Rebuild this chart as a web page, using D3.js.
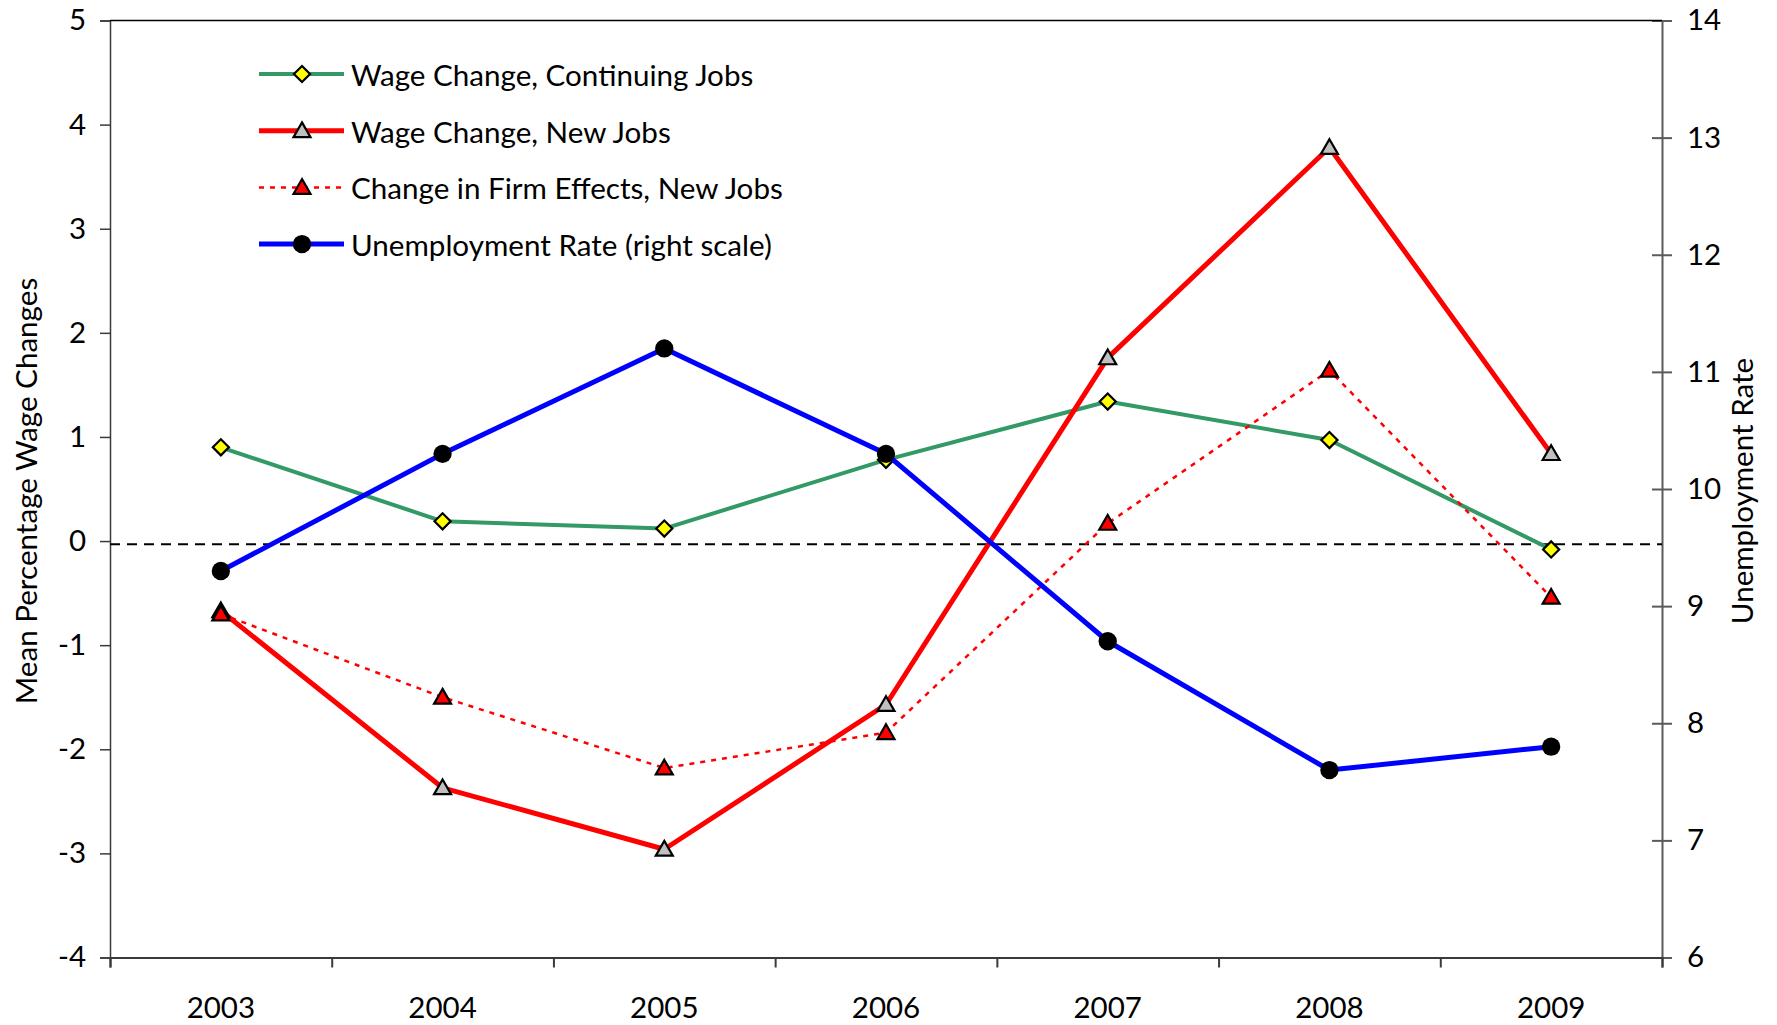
<!DOCTYPE html>
<html>
<head>
<meta charset="utf-8">
<script src="https://cdn.jsdelivr.net/npm/d3@7/dist/d3.min.js"></script>
<style>
  html, body { margin: 0; padding: 0; background: #fff; }
  svg { display: block; font-family: Lato, "Open Sans", sans-serif; }
</style>
</head>
<body>
<svg id="chart" width="1777" height="1025"></svg>
<script>
// Werte
var years = [2003, 2004, 2005, 2006, 2007, 2008, 2009];
var continuingJobs = [0.90, 0.19, 0.12, 0.78, 1.34, 0.97, -0.08];
var newJobs = [-0.67, -2.37, -2.96, -1.57, 1.76, 3.78, 0.84];
var firmEffects = [-0.70, -1.50, -2.18, -1.84, 0.17, 1.64, -0.54];
var unemployment = [9.3, 10.3, 11.2, 10.3, 8.7, 7.6, 7.8];

var leftTicks = [-4, -3, -2, -1, 0, 1, 2, 3, 4, 5];
var rightTicks = [6, 7, 8, 9, 10, 11, 12, 13, 14];
var refLine = -0.03;

var leftTitle = "Mean Percentage Wage Changes";
var rightTitle = "Unemployment Rate";

var legendLabels = [
  "Wage Change, Continuing Jobs",
  "Wage Change, New Jobs",
  "Change in Firm Effects, New Jobs",
  "Unemployment Rate (right scale)"
];

// Layout
var plot = { left: 110, right: 1662, top: 20.5, bottom: 957.5 };
var fontSize = 29.5;
var legendFont = 29.6;

var svg = d3.select("#chart");

var x = d3.scaleBand().domain(years).range([plot.left, plot.right]).padding(0);
var xEdge = d3.scaleLinear().domain([0, years.length]).range([plot.left, plot.right]);
var yL = d3.scaleLinear().domain([-4, 5]).range([plot.bottom, plot.top]);
var yR = d3.scaleLinear().domain([6, 14]).range([plot.bottom, plot.top]);

function cx(i) { return x(years[i]) + x.bandwidth() / 2; }
// Bindestrich statt Unicode-Minus, wie im Original
function plain(d) { return String(d); }

// Serien-Konfiguration (Stil getrennt von den Daten)
var series = [
  { values: continuingJobs, scale: yL, color: "#339966", width: 4, dash: null,
    symbol: "diamond", fill: "#ffff00" },
  { values: newJobs, scale: yL, color: "#ff0000", width: 5, dash: null,
    symbol: "triangle", fill: "#c0c0c0" },
  { values: firmEffects, scale: yL, color: "#ff0000", width: 2.5, dash: "5,6",
    symbol: "triangle", fill: "#ff0000" },
  { values: unemployment, scale: yR, color: "#0000ff", width: 5, dash: null,
    symbol: "circle", fill: "#000000" }
];

function markerPath(kind) {
  if (kind === "diamond") return d3.symbol().type(d3.symbolSquare).size(130)();
  if (kind === "triangle") return d3.symbol().type(d3.symbolTriangle).size(125)();
  return d3.symbol().type(d3.symbolCircle).size(Math.PI * 84)();
}

function drawMarker(g, kind, fill, px, py) {
  var m = g.append("path")
    .attr("d", markerPath(kind))
    .attr("fill", fill)
    .attr("stroke", "#000")
    .attr("stroke-width", kind === "circle" ? 0 : 2.2)
    .attr("stroke-linejoin", "miter");
  if (kind === "diamond") {
    m.attr("transform", "translate(" + px + "," + py + ") rotate(45)");
  } else if (kind === "triangle") {
    m.attr("transform", "translate(" + px + "," + (py + 1.5) + ")");
  } else {
    m.attr("transform", "translate(" + px + "," + py + ")");
  }
}

// Achsen
var axisL = svg.append("g")
  .attr("transform", "translate(" + plot.left + ",0)")
  .call(d3.axisLeft(yL).tickValues(leftTicks).tickSize(10).tickPadding(14).tickFormat(plain));

var axisR = svg.append("g")
  .attr("transform", "translate(" + plot.right + ",0)")
  .call(d3.axisRight(yR).tickValues(rightTicks).tickSize(10).tickPadding(15).tickFormat(plain));
axisR.selectAll(".tick line").attr("x1", -10).attr("x2", 10);

var axisB = svg.append("g")
  .attr("transform", "translate(0," + plot.bottom + ")")
  .call(d3.axisBottom(xEdge).tickValues(d3.range(years.length + 1)).tickSize(10).tickFormat(""));

var axisLabels = svg.append("g")
  .attr("transform", "translate(0," + plot.bottom + ")")
  .call(d3.axisBottom(x).tickSize(0).tickFormat(plain));
axisLabels.select(".domain").remove();
axisLabels.selectAll("text").attr("y", 60).attr("dy", null);

[axisL, axisR, axisB, axisLabels].forEach(function(a) {
  a.selectAll("text")
    .attr("font-family", "Lato, sans-serif")
    .attr("font-size", fontSize)
    .attr("fill", "#000");
});
axisL.selectAll("path, line").attr("stroke", "#3a3a3a").attr("stroke-width", 1.5);
axisB.selectAll("path, line").attr("stroke", "#3a3a3a").attr("stroke-width", 2);
axisR.selectAll("path, line").attr("stroke", "#5a5a5a").attr("stroke-width", 2);

// Rahmen oben
svg.append("line")
  .attr("x1", plot.left).attr("x2", plot.right)
  .attr("y1", yL(5)).attr("y2", yL(5))
  .attr("stroke", "#000").attr("stroke-width", 1.5);

// Gestrichelte Nulllinie
svg.append("line")
  .attr("x1", plot.left).attr("x2", plot.right)
  .attr("y1", yL(refLine)).attr("y2", yL(refLine))
  .attr("stroke", "#000").attr("stroke-width", 2)
  .attr("stroke-dasharray", "10,7");

// Achsentitel
svg.append("text")
  .attr("transform", "translate(37,491) rotate(-90)")
  .attr("text-anchor", "middle")
  .attr("font-size", legendFont)
  .text(leftTitle);

svg.append("text")
  .attr("transform", "translate(1753,491) rotate(-90)")
  .attr("text-anchor", "middle")
  .attr("font-size", legendFont)
  .text(rightTitle);

// Linien und Marker
series.forEach(function(s) {
  var g = svg.append("g");
  var line = d3.line()
    .x(function(d, i) { return cx(i); })
    .y(function(d) { return s.scale(d); });
  g.append("path")
    .datum(s.values)
    .attr("d", line)
    .attr("fill", "none")
    .attr("stroke", s.color)
    .attr("stroke-width", s.width)
    .attr("stroke-linejoin", "round")
    .attr("stroke-dasharray", s.dash);
  s.values.forEach(function(v, i) {
    drawMarker(g, s.symbol, s.fill, cx(i), s.scale(v));
  });
});

// Legende
var legend = svg.append("g");
var legendTop = 74, legendStep = 56.7;
series.forEach(function(s, i) {
  var ly = legendTop + i * legendStep;
  legend.append("line")
    .attr("x1", 259).attr("x2", 344)
    .attr("y1", ly).attr("y2", ly)
    .attr("stroke", s.color)
    .attr("stroke-width", s.width)
    .attr("stroke-dasharray", s.dash);
  drawMarker(legend, s.symbol, s.fill, 302, ly);
  legend.append("text")
    .attr("x", 351).attr("y", ly + 12)
    .attr("font-size", legendFont)
    .text(legendLabels[i]);
});
</script>
</body>
</html>
